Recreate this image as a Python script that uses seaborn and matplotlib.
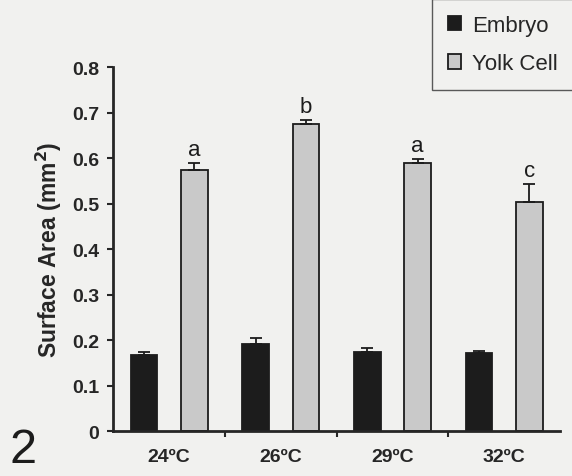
import numpy as np
import pandas as pd
import matplotlib
matplotlib.use('Agg')
import matplotlib.pyplot as plt
import seaborn as sns

temperaturas = ['24ºC', '26ºC', '29ºC', '32ºC']
embryo = [0.167, 0.191, 0.174, 0.172]
embryo_err = [0.006, 0.013, 0.008, 0.004]
yolk = [0.574, 0.675, 0.590, 0.503]
yolk_err = [0.015, 0.009, 0.009, 0.040]
letras = ['a', 'b', 'a', 'c']

df = pd.DataFrame({
    'temp': temperaturas * 2,
    'area': embryo + yolk,
    'err': embryo_err + yolk_err,
    'tejido': ['Embryo'] * 4 + ['Yolk Cell'] * 4,
})

sns.set_style('ticks')
plt.rcParams['font.family'] = ['Liberation Sans', 'DejaVu Sans']

fondo = '#f1f1ef'
fig = plt.figure(figsize=(5.72, 4.77), dpi=100, facecolor=fondo)
ax = fig.add_axes([0.198, 0.094, 0.781, 0.763])
ax.set_facecolor(fondo)

sns.barplot(data=df, x='temp', y='area', hue='tejido',
            palette={'Embryo': '#1c1c1c', 'Yolk Cell': '#c9c9c9'},
            width=0.9, gap=0.47, edgecolor='#1c1c1c', linewidth=1.3,
            errorbar=None, ax=ax)

# barras de error (solo hacia arriba) y letras
for cont, errs, tipo in zip(ax.containers, [embryo_err, yolk_err], ['e', 'y']):
    for i, (bar, e) in enumerate(zip(cont, errs)):
        xc = bar.get_x() + bar.get_width() / 2
        h = bar.get_height()
        ax.errorbar(xc, h, yerr=[[0], [e]], color='#1c1c1c', capsize=4,
                    elinewidth=1.3, capthick=1.3)
        if tipo == 'y':
            ax.text(xc, h + e + 0.006, letras[i], ha='center', va='bottom',
                    fontsize=16, color='#1c1c1c')

ax.set_ylim(0, 0.8)
ax.set_xlim(-0.5, 3.5)
ax.set_yticks(np.arange(0, 0.81, 0.1))
ax.set_yticklabels(['0'] + [f'{v:.1f}' for v in np.arange(0.1, 0.81, 0.1)])
ax.set_xticks([0.5, 1.5, 2.5], minor=True)
ax.tick_params(axis='x', which='major', length=0, pad=12)
ax.tick_params(axis='x', which='minor', length=4, width=1.5, direction='out')
ax.tick_params(axis='y', length=4, width=1.5, direction='out', pad=6)
for lab in ax.get_xticklabels() + ax.get_yticklabels():
    lab.set_fontweight('bold')
    lab.set_fontsize(14)
ax.set_xlabel('')
ax.set_ylabel('Surface Area (mm$^\\mathbf{2}$)', fontsize=16.5, fontweight='bold', labelpad=6)
sns.despine(ax=ax)
for s in ['left', 'bottom']:
    ax.spines[s].set_linewidth(2)

leg = ax.legend(loc='upper left', bbox_to_anchor=(432 / 572, 1.0), bbox_transform=fig.transFigure,
                frameon=True, fancybox=False, fontsize=16, handlelength=0.6, handleheight=0.6,
                borderpad=0.7, labelspacing=0.8, handletextpad=0.5, borderaxespad=0)
leg.get_frame().set_edgecolor('#333333')
leg.get_frame().set_facecolor(fondo)
leg.get_frame().set_linewidth(1)

fig.text(0.017, 0.03, '2', fontsize=35, color='#1c1c1c')

fig.savefig('out.png', dpi=100, facecolor=fondo)
